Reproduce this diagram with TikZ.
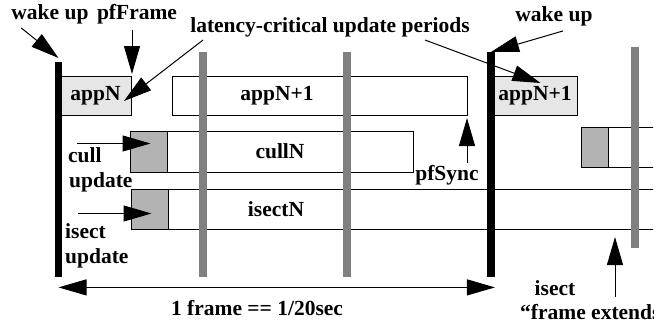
\documentclass[tikz,border=0pt]{standalone}
\usepackage{fontspec}
\setmainfont{Liberation Serif}
\usetikzlibrary{arrows.meta}
\definecolor{lightGray}{HTML}{E6E6E6}
\definecolor{midGray}{HTML}{B3B3B3}
\definecolor{barGray}{HTML}{808080}
\tikzset{
  lbl/.style={font=\fontsize{21.5}{23}\selectfont\bfseries, inner sep=0pt},
  tip/.style={-{Triangle[length=28pt,width=16pt]}, line width=1pt},
  tiptwo/.style={{Triangle[length=28pt,width=16pt]}-{Triangle[length=28pt,width=16pt]}, line width=1pt},
  box/.style={draw, line width=1pt, inner sep=0pt, anchor=north west},
  blackbar/.style={fill=black, inner sep=0pt, minimum width=7.5pt, anchor=north},
  graybar/.style={fill=barGray, inner sep=0pt, minimum width=7.5pt, anchor=north}
}
\begin{document}
\begin{tikzpicture}[x=1pt,y=-1pt]
  \useasboundingbox (0,0) rectangle (667,325);
  \begin{scope}
    \clip (0,0) rectangle (653,325);
    % update boxes
    \node[box, fill=lightGray, minimum width=72pt, minimum height=39pt] (appN) at (59,76) {};
    \node[box, minimum width=295pt, minimum height=39pt] (appNext) at (172,76) {};
    \node[box, fill=lightGray, minimum width=85pt, minimum height=39pt] (appNextB) at (492,76) {};
    \node[box, fill=midGray, minimum width=37pt, minimum height=41pt] (cullUpd) at (130,131) {};
    \node[box, minimum width=246pt, minimum height=41pt] (cullN) at (167,131) {};
    \node[box, fill=midGray, minimum width=37pt, minimum height=40pt] (isectUpd) at (131,189) {};
    \node[box, minimum width=520pt, minimum height=40pt] (isectN) at (168,189) {};
    \node[box, fill=midGray, minimum width=27pt, minimum height=40pt] (cullUpdB) at (581,127) {};
    \node[box, minimum width=80pt, minimum height=40pt] (cullNB) at (608,127) {};
    % frame bars
    \node[graybar, minimum height=225pt] (barA) at (203,52) {};
    \node[graybar, minimum height=225pt] (barB) at (347,52) {};
    \node[graybar, minimum height=201pt] (barC) at (635,47) {};
    \node[blackbar, minimum height=215pt] (wakeA) at (58.5,62) {};
    \node[blackbar, minimum height=225pt] (wakeB) at (491,52) {};
    % labels
    \node[lbl] at (appN) {appN};
    \node[lbl] at (277,96) {appN+1};
    \node[lbl] at (appNextB) {appN+1};
    \node[lbl] at (280,151) {cullN};
    \node[lbl] at (276,209) {isectN};
    \node[lbl] (wakeLblA) at (50,14) {wake up};
    \node[lbl] (pfFrame) at (137,14) {pfFrame};
    \node[lbl] (latency) at (330,27) {latency-critical update periods};
    \node[lbl] (wakeLblB) at (554,16) {wake up};
    \node[lbl, anchor=west] (cullLbl) at (68,155) {cull};
    \node[lbl, anchor=west] at (69,182) {update};
    \node[lbl, anchor=west] (isectLbl) at (65,231) {isect};
    \node[lbl, anchor=west] at (65,258) {update};
    \node[lbl] (pfSync) at (447,175) {pfSync};
    \node[lbl] (frameLbl) at (257,308) {1 frame == 1/20sec};
    \node[lbl] (extLbl) at (555,288) {isect};
    \node[lbl, anchor=west] at (520,312) {“frame extends};
    % arrows
    \coordinate (extTip) at (615,237);
    \draw[tip] ([xshift=10pt,yshift=-4pt]wakeLblA.south west) -- ([yshift=4pt]wakeA.north);
    \draw[tip] (appN.north east |- pfFrame.south) ++(0,6) -- ([yshift=2pt]appN.north east);
    \draw[tip] ([xshift=13pt,yshift=-3pt]latency.south west) -- ([xshift=-8pt,yshift=15pt]appN.south east);
    \draw[tip] ([xshift=-45pt,yshift=-3pt]latency.south east) -- ([xshift=5.5pt,yshift=-7pt]appNextB.north);
    \draw[tip] ([xshift=9pt,yshift=-5pt]wakeLblB.south) -- (wakeB.north);
    \draw[tip] ([xshift=-1pt]appNext.south east |- pfSync.north) ++(0,-2) -- ([xshift=-1pt,yshift=-2pt]appNext.south east);
    \draw[tip] ([xshift=-72pt,yshift=8.5pt]cullUpd.center) -- ([xshift=1.5pt,yshift=8.5pt]cullUpd.center);
    \draw[tip] ([xshift=-72pt,yshift=-4pt]isectUpd.center) -- ([xshift=1.5pt,yshift=-4pt]isectUpd.center);
    \draw[tiptwo] ([yshift=-10pt]wakeA.south) -- ([yshift=-10pt]wakeB.south east);
    \draw[tip] ([yshift=-60pt]extTip) -- (extTip);
  \end{scope}
\end{tikzpicture}
\end{document}
